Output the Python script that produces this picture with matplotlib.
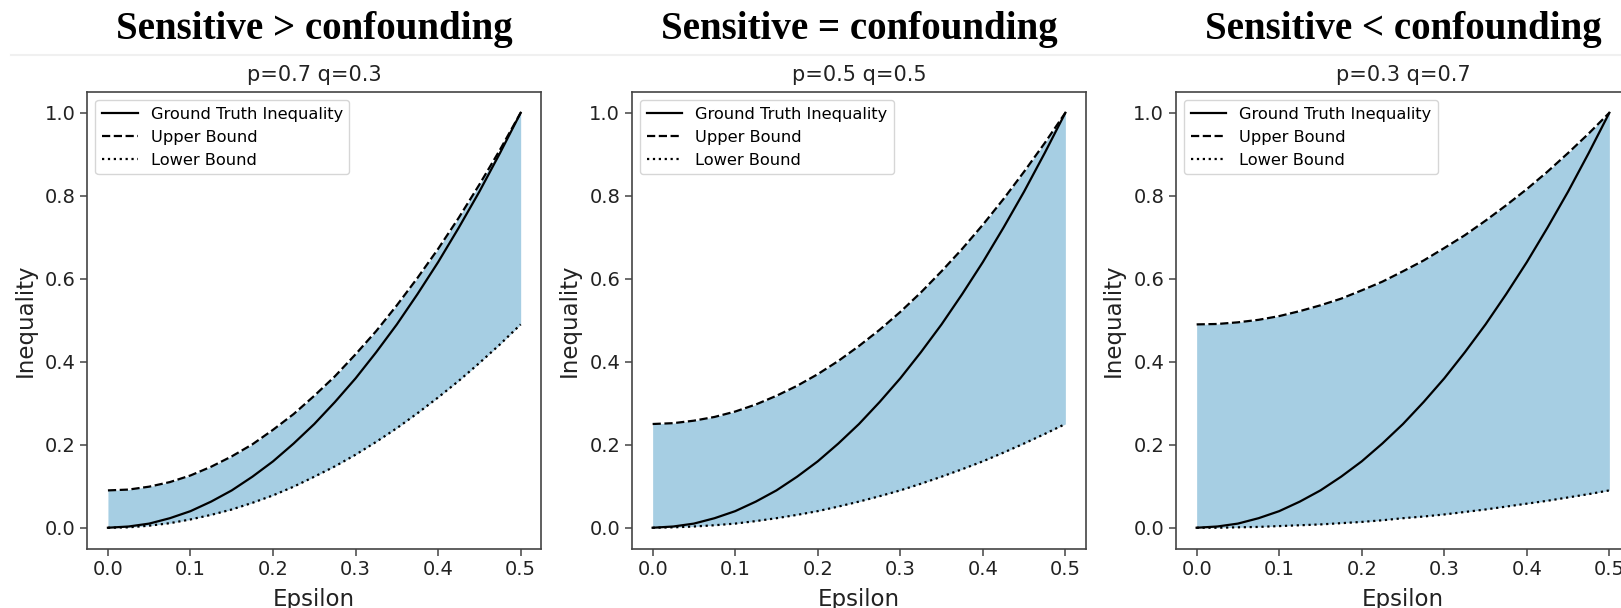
import matplotlib
matplotlib.use('Agg')
import matplotlib.pyplot as plt
from matplotlib.lines import Line2D

# epsilon grid
epsilon = [0.0, 0.025, 0.05, 0.075, 0.1, 0.125, 0.15, 0.175, 0.2, 0.225, 0.25,
           0.275, 0.3, 0.325, 0.35, 0.375, 0.4, 0.425, 0.45, 0.475, 0.5]

# ground truth curve, same in all three panels
truth = [0.0, 0.003, 0.01, 0.023, 0.04, 0.063, 0.09, 0.123, 0.16, 0.203, 0.25,
         0.303, 0.36, 0.423, 0.49, 0.563, 0.64, 0.723, 0.81, 0.903, 1.0]

upper_a = [0.09, 0.092, 0.099, 0.11, 0.126, 0.147, 0.172, 0.201, 0.236, 0.274, 0.318,
           0.365, 0.418, 0.474, 0.536, 0.602, 0.672, 0.747, 0.827, 0.911, 1.0]
lower_a = [0.0, 0.001, 0.005, 0.011, 0.02, 0.031, 0.044, 0.06, 0.078, 0.099, 0.123,
           0.148, 0.176, 0.207, 0.24, 0.276, 0.314, 0.354, 0.397, 0.442, 0.49]

upper_b = [0.25, 0.252, 0.258, 0.267, 0.28, 0.297, 0.318, 0.342, 0.37, 0.402, 0.438,
           0.477, 0.52, 0.567, 0.618, 0.672, 0.73, 0.792, 0.858, 0.927, 1.0]
lower_b = [0.0, 0.001, 0.003, 0.006, 0.01, 0.016, 0.023, 0.031, 0.04, 0.051, 0.063,
           0.076, 0.09, 0.106, 0.123, 0.141, 0.16, 0.181, 0.203, 0.226, 0.25]

upper_c = [0.49, 0.491, 0.495, 0.501, 0.51, 0.522, 0.536, 0.552, 0.572, 0.593, 0.618,
           0.644, 0.674, 0.705, 0.74, 0.777, 0.816, 0.858, 0.903, 0.95, 1.0]
lower_c = [0.0, 0.0, 0.001, 0.002, 0.004, 0.006, 0.008, 0.011, 0.014, 0.018, 0.023,
           0.027, 0.032, 0.038, 0.044, 0.051, 0.058, 0.065, 0.073, 0.081, 0.09]

headers = ['Sensitive > confounding', 'Sensitive = confounding', 'Sensitive < confounding']
subtitles = ['p=0.7 q=0.3', 'p=0.5 q=0.5', 'p=0.3 q=0.7']
uppers = [upper_a, upper_b, upper_c]
lowers = [lower_a, lower_b, lower_c]

W, H = 1621, 608
fig = plt.figure(figsize=(W / 100, H / 100), dpi=100)

# faint page edge under the headers
fig.add_artist(Line2D([11 / W, 1], [1 - 55 / H, 1 - 55 / H], color='#f0f0f0', lw=1.5))

lefts = [87.3, 632, 1176]
ax_w, ax_top, ax_bot = 454, 92, 548.5

for i in range(3):
    ax = fig.add_axes([lefts[i] / W, 1 - ax_bot / H, ax_w / W, (ax_bot - ax_top) / H])
    ax.fill_between(epsilon, lowers[i], uppers[i], color='#a6cee3', lw=0)
    ax.plot(epsilon, truth, color='black', lw=1.6, label='Ground Truth Inequality')
    ax.plot(epsilon, uppers[i], color='black', lw=1.6, ls='--', label='Upper Bound')
    ax.plot(epsilon, lowers[i], color='black', lw=1.6, ls=':', label='Lower Bound')
    ax.set_xlim(-0.025, 0.525)
    ax.set_ylim(-0.05, 1.05)
    ax.set_xticks([0.0, 0.1, 0.2, 0.3, 0.4, 0.5])
    ax.set_yticks([0.0, 0.2, 0.4, 0.6, 0.8, 1.0])
    ax.tick_params(labelsize=14, length=5, width=1.1, color='#444', labelcolor='#222')
    for s in ax.spines.values():
        s.set_color('#444')
        s.set_linewidth(1.2)
    ax.set_xlabel('Epsilon', fontsize=16.5, color='#222', labelpad=6)
    ax.set_ylabel('Inequality', fontsize=16.5, color='#222', labelpad=6)
    ax.set_title(subtitles[i], fontsize=15, color='#222', pad=8)
    ax.legend(loc='upper left', fontsize=11.7, handlelength=2.2, labelspacing=0.5,
              borderaxespad=0.5)
    cx = (lefts[i] + ax_w / 2) / W
    fig.text(cx, 1 - 30 / H, headers[i], ha='center', va='center',
             fontfamily='Liberation Serif', fontweight='bold', fontsize=28)

fig.savefig('out.png', dpi=100)
